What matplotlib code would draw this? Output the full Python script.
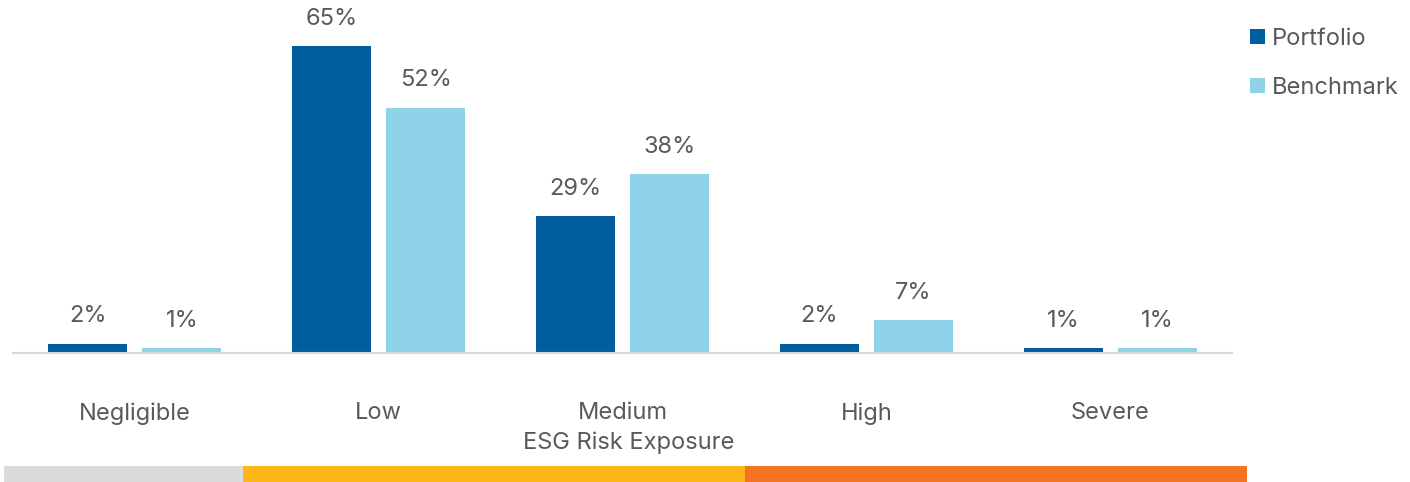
import matplotlib
matplotlib.use("Agg")
import matplotlib.pyplot as plt
from matplotlib.patches import Rectangle
import numpy as np

categories = ["Negligible", "Low", "Medium", "High", "Severe"]
portfolio = [2, 65, 29, 2, 1]
benchmark = [1, 52, 38, 7, 1]
series_names = ["Portfolio", "Benchmark"]

DPI = 100
W, H = 1410, 482
TEXT = "#58595B"
C_PORT = "#005E9F"
C_BENCH = "#8ED3E7"
FS = 17

plt.rcParams["font.family"] = ["Inter", "DejaVu Sans"]

fig = plt.figure(figsize=(W / DPI, H / DPI), dpi=DPI)
# axes in pixel coordinates: x 13..1232, baseline at y=353
left, right = 13 / W, 1232 / W
bottom = (H - 353) / H
top = 1.0
ax = fig.add_axes([left, bottom, right - left, top - bottom])

x = np.arange(len(categories))
bw = 0.324
off = 0.193
b1 = ax.bar(x - off, portfolio, bw, color=C_PORT, label=series_names[0])
b2 = ax.bar(x + off, benchmark, bw, color=C_BENCH, label=series_names[1])

ax.set_xlim(-0.5, 4.5)
ax.set_ylim(0, 353 / 4.72)

for bars, vals in ((b1, portfolio), (b2, benchmark)):
    for rect, v in zip(bars, vals):
        ax.annotate(f"{v}%", (rect.get_x() + rect.get_width() / 2, v),
                    xytext=(0, 19.5), textcoords="offset points",
                    ha="center", va="center", fontsize=FS, color=TEXT)

for s in ["top", "right", "left"]:
    ax.spines[s].set_visible(False)
ax.spines["bottom"].set_color("#D9D9D9")
ax.spines["bottom"].set_linewidth(1.5)
ax.set_yticks([])
ax.set_xticks(x)
ax.set_xticklabels(categories, fontsize=FS, color=TEXT)
ax.tick_params(axis="x", length=0, pad=35.5)

fig.text(629 / W, 1 - 443 / H, "ESG Risk Exposure", ha="center", va="center",
         fontsize=FS, color=TEXT)

leg = ax.legend(loc="upper left", bbox_to_anchor=(1250 / W, 1 - 28 / H),
                bbox_transform=fig.transFigure, frameon=False,
                prop={"size": FS},
                handlelength=0.62, handleheight=0.62, handletextpad=0.3,
                labelspacing=1.15, borderaxespad=0, borderpad=0)
for t in leg.get_texts():
    t.set_color(TEXT)

# risk-level colour strip along the bottom
strip = [(4, 243, "#D9DCDB"), (243, 745, "#FDB71A"), (745, 1247, "#F47521")]
for x0, x1, c in strip:
    fig.add_artist(Rectangle((x0 / W, 0), (x1 - x0) / W, 16 / H,
                             transform=fig.transFigure, color=c, lw=0))

fig.savefig("out.png", dpi=DPI)
